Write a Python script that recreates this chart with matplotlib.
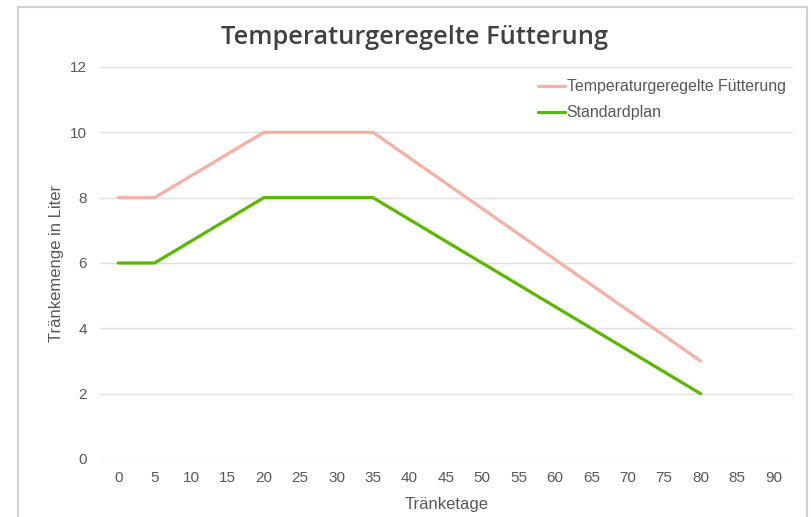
import matplotlib
matplotlib.use("Agg")
import matplotlib.pyplot as plt
from matplotlib.patches import Rectangle

days = [0, 5, 20, 35, 80]
temp_values = [8, 8, 10, 10, 3]
std_values = [6, 6, 8, 8, 2]
series_names = ["Temperaturgeregelte Fütterung", "Standardplan"]
x_ticks = list(range(0, 95, 5))
y_ticks = list(range(0, 14, 2))

plt.rcParams['font.family'] = ['Liberation Sans', 'DejaVu Sans']

fig = plt.figure(figsize=(8.11, 5.17), dpi=100)
fig.patches.append(Rectangle((18/811, -0.1), (807-18)/811, 1.1 - 7/517,
                             transform=fig.transFigure, fill=False,
                             edgecolor='#d0d0d0', linewidth=1.5))
ax = fig.add_axes([100/811, 1-459/517, (793-100)/811, (459-67)/517])

ax.plot(days, temp_values, color='#F7B0A4', linewidth=2.3, label=series_names[0], solid_capstyle='round')
ax.plot(days, std_values, color='#5BB800', linewidth=2.3, label=series_names[1], solid_capstyle='round')

ax.set_xlim(-2.5, 92.7)
ax.set_ylim(0, 12)
ax.set_xticks(x_ticks)
ax.set_yticks(y_ticks)
for s in ax.spines.values():
    s.set_visible(False)
ax.grid(axis='y', color='#e0e0e0', linewidth=1)
ax.set_axisbelow(True)
ax.tick_params(length=0, labelsize=11, colors='#595959', pad=9)
ax.tick_params(axis='y', pad=9.5)

ax.set_xlabel("Tränketage", fontsize=12, color='#595959', labelpad=8)
ax.set_ylabel("Tränkemenge in Liter", fontsize=12, color='#595959', labelpad=4)

fig.text(415/811, 1-37/517, "Temperaturgeregelte Fütterung", ha='center', va='center',
         fontsize=18.3, color='#404040', family=['Open Sans', 'DejaVu Sans'], fontweight='semibold')

leg = ax.legend(loc='upper left', bbox_to_anchor=(0.618, 0.993), frameon=False,
                fontsize=11.4, handlelength=1.7, handletextpad=0.13, labelspacing=0.7,
                borderaxespad=0.2)
for t in leg.get_texts():
    t.set_color('#595959')

fig.savefig("out.png", dpi=100)
